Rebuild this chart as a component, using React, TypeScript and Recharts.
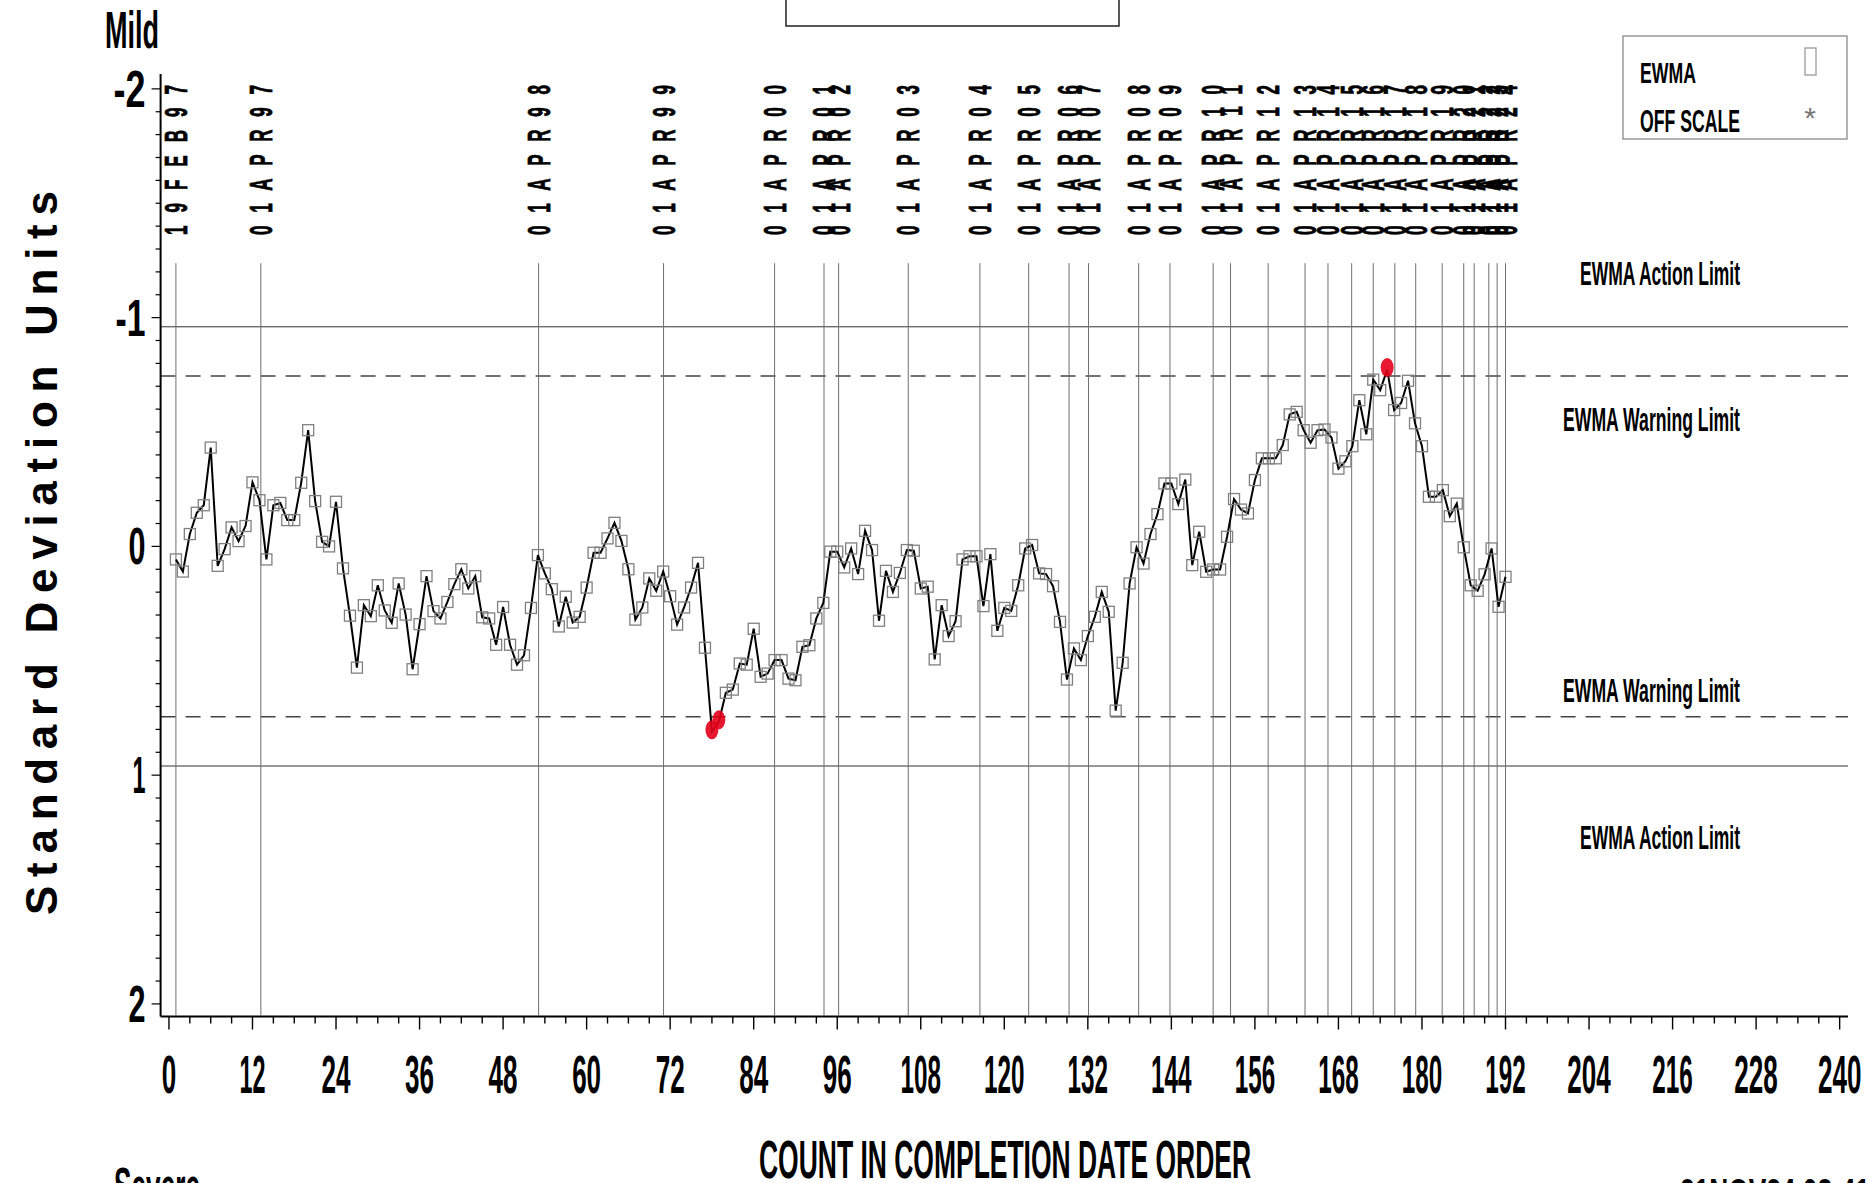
import React from 'react'
import { ComposedChart, Line, XAxis, YAxis, ReferenceLine } from 'recharts'

const W = 1875
const H = 1183
const FONT = '"Liberation Sans", Arial, Helvetica, sans-serif'

// EWMA in standard deviation units, one value per count (1..192)
const ewma = [
  0.057, 0.11, -0.054, -0.147, -0.18, -0.432, 0.085, 0.012, -0.083, -0.023,
  -0.089, -0.28, -0.202, 0.057, -0.18, -0.19, -0.115, -0.115, -0.278, -0.508,
  -0.198, -0.02, 0.0, -0.195, 0.096, 0.303, 0.53, 0.257, 0.305, 0.17,
  0.28, 0.334, 0.162, 0.298, 0.537, 0.34, 0.13, 0.283, 0.315, 0.243,
  0.165, 0.1, 0.184, 0.13, 0.31, 0.315, 0.43, 0.265, 0.43, 0.517,
  0.476, 0.269, 0.038, 0.118, 0.187, 0.35, 0.22, 0.333, 0.308, 0.18,
  0.028, 0.028, -0.035, -0.103, -0.024, 0.1, 0.32, 0.267, 0.14, 0.194,
  0.11, 0.218, 0.342, 0.267, 0.18, 0.072, 0.443, 0.81, 0.767, 0.64,
  0.626, 0.512, 0.517, 0.36, 0.57, 0.556, 0.497, 0.497, 0.578, 0.585,
  0.439, 0.432, 0.315, 0.247, 0.023, 0.023, 0.092, 0.009, 0.121, -0.068,
  0.016, 0.325, 0.107, 0.199, 0.116, 0.016, 0.019, 0.184, 0.176, 0.494,
  0.257, 0.392, 0.327, 0.057, 0.043, 0.043, 0.261, 0.034, 0.369, 0.269,
  0.282, 0.17, 0.009, -0.006, 0.118, 0.121, 0.174, 0.33, 0.582, 0.446,
  0.497, 0.392, 0.308, 0.199, 0.286, 0.718, 0.509, 0.162, 0.004, 0.075,
  -0.054, -0.141, -0.275, -0.275, -0.185, -0.292, 0.082, -0.064, 0.111, 0.101,
  0.101, -0.042, -0.207, -0.161, -0.144, -0.29, -0.385, -0.385, -0.385, -0.443,
  -0.577, -0.588, -0.508, -0.453, -0.508, -0.511, -0.476, -0.34, -0.372, -0.438,
  -0.639, -0.49, -0.729, -0.683, -0.773, -0.596, -0.627, -0.724, -0.538, -0.438,
  -0.217, -0.217, -0.246, -0.132, -0.187, 0.004, 0.17, 0.194, 0.122, 0.009,
  0.264, 0.133,
]

// counts drawn as red signal markers
const signalCounts = [78, 79, 175]

// vertical date markers (position in count units) and their labels
const dateLines = [
  1.0, 13.2, 53.1, 71.05, 87.0, 94.1, 96.2, 106.2, 116.5, 123.5,
  129.3, 132.1, 139.3, 143.8, 150.0, 152.5, 157.9, 163.2, 166.5, 169.9,
  173.0, 176.1, 179.1, 182.9, 186.0, 187.5, 189.6, 190.8, 192.0,
]
const dateLabels = [
  '19FEB97', '01APR97', '01APR98', '01APR99', '01APR00', '01APR01', '01APR02', '01APR03', '01APR04', '01APR05',
  '01APR06', '01APR07', '01APR08', '01APR09', '01APR10', '01APR11', '01APR12', '01APR13', '01APR14', '01APR15',
  '01APR16', '01APR17', '01APR18', '01APR19', '01APR20', '01APR21', '01APR22', '01APR23', '01APR24',
]

const xMajorTicks = [0, 12, 24, 36, 48, 60, 72, 84, 96, 108, 120, 132, 144, 156, 168, 180, 192, 204, 216, 228, 240]
const yMajorTicks = [-2, -1, 0, 1, 2]
const yTickText: Record<string, string> = { '-2': '-2', '-1': '-1', '0': '0', '1': '1', '2': '2' }

const actionLimit = 0.96
const warningLimit = 0.745

// minor ticks: every 3 counts on x, every 0.1 on y
const xTicks: number[] = []
for (let i = 0; i <= 240; i += 3) xTicks.push(i)
const yTicks: number[] = []
for (let i = -20; i <= 20; i++) yTicks.push(i / 10)

const data = ewma.map((v, i) => ({ count: i + 1, v }))

const XTick = (props: any) => {
  const { x, y, payload } = props
  const v = payload.value
  const major = xMajorTicks.includes(v)
  const s = String(v)
  const ones = s.split('').filter((c) => c === '1').length
  return (
    <g>
      <line x1={x} x2={x} y1={y} y2={y + (major ? 13 : 7)} stroke="#000" strokeWidth={1.4} />
      {major && (
        <text x={x} y={y + 76} textAnchor="middle" fontSize={54} fontWeight="bold" fontFamily={FONT}
          textLength={14.5 * s.length - 3 * ones} lengthAdjust="spacingAndGlyphs" fill="#000">
          {s}
        </text>
      )}
    </g>
  )
}

const yLabelWidth: Record<string, number> = { '-2': 32, '-1': 30, '0': 17, '1': 13, '2': 17 }

const YTick = (props: any) => {
  const { x, y, payload } = props
  const v = Math.round(payload.value * 10) / 10
  const major = yMajorTicks.includes(v)
  return (
    <g>
      <line x1={x} x2={x - (major ? 9 : 5)} y1={y} y2={y} stroke="#000" strokeWidth={1.2} />
      {major && (
        <text x={x - 15} y={y + 18} textAnchor="end" fontSize={51} fontWeight="bold" fontFamily={FONT}
          textLength={yLabelWidth[String(v)]} lengthAdjust="spacingAndGlyphs" fill="#000">
          {yTickText[String(v)]}
        </text>
      )}
    </g>
  )
}

// rotated date text sitting above each vertical marker line
const dateLabel = (text: string) => (p: any) => {
  const x = p.viewBox ? p.viewBox.x : 0
  return (
    <text transform={`translate(${x + 11}, 235) rotate(-90) scale(0.55, 1)`} fontSize={31} fontWeight="bold"
      fontFamily={FONT} textLength={150 / 0.55} lengthAdjust="spacing" fill="#000"
      stroke="#000" strokeWidth={0.8}>
      {text}
    </text>
  )
}

const renderDot = (p: any) => {
  const { cx, cy, payload, index } = p
  if (signalCounts.includes(payload.count)) {
    return <ellipse key={index} cx={cx} cy={cy - 2} rx={6.5} ry={9.5} fill="#e3001b" fillOpacity={0.9} />
  }
  return (
    <rect key={index} x={cx - 5.5} y={cy - 5.5} width={11} height={11} fill="none" stroke="#808080" strokeWidth={1.3} />
  )
}

function Cond({ x, y, w, size, anchor = 'start', children }: any) {
  return (
    <text x={x} y={y} fontSize={size} fontWeight="bold" fontFamily={FONT} textLength={w}
      lengthAdjust="spacingAndGlyphs" textAnchor={anchor} fill="#000">
      {children}
    </text>
  )
}

export default function App() {
  return (
    <div style={{ position: 'absolute', left: 0, top: 0, width: W, height: H, background: '#fff', overflow: 'hidden' }}>
      <ComposedChart width={W} height={H} data={data} margin={{ top: 74, right: 27, bottom: 106.5, left: 100.6 }}>
        <XAxis dataKey="count" type="number" domain={[-1.2, 241.2]} allowDataOverflow
          ticks={xTicks} interval={0} tick={<XTick />} tickLine={false} tickSize={0} tickMargin={0}
          height={60} axisLine={{ stroke: '#000', strokeWidth: 2.2 }} />
        <YAxis type="number" domain={[-2.065, 2.055]} allowDataOverflow reversed ticks={yTicks} interval={0}
          tick={<YTick />} tickLine={false} tickSize={0} tickMargin={0} width={60}
          axisLine={{ stroke: '#000', strokeWidth: 2 }} />

        <ReferenceLine y={-actionLimit} stroke="#333" strokeWidth={1} />
        <ReferenceLine y={actionLimit} stroke="#333" strokeWidth={1} />
        <ReferenceLine y={-warningLimit} stroke="#444" strokeWidth={1.5} strokeDasharray="15 10" />
        <ReferenceLine y={warningLimit} stroke="#444" strokeWidth={1.5} strokeDasharray="15 10" />

        {dateLines.map((c, i) => (
          <ReferenceLine key={c} segment={[{ x: c, y: -1.238 }, { x: c, y: 2.05 }]} stroke="#6f6f6f"
            strokeWidth={1} label={dateLabel(dateLabels[i])} />
        ))}

        <Line type="linear" dataKey="v" stroke="#000" strokeWidth={2} dot={renderDot} activeDot={false}
          isAnimationActive={false} />
      </ComposedChart>

      <svg width={W} height={H} style={{ position: 'absolute', left: 0, top: 0, pointerEvents: 'none' }}>
        <rect x={786} y={-4} width={333} height={30} fill="none" stroke="#222" strokeWidth={1.5} />
        <Cond x={105} y={48} w={54} size={52}>Mild</Cond>
        <Cond x={114} y={1204} w={86} size={52}>Severe</Cond>
        <Cond x={759} y={1178} w={492} size={54}>COUNT IN COMPLETION DATE ORDER</Cond>
        <Cond x={1680} y={1207} w={190} size={40}>21NOV24 08:41</Cond>
        <text transform="translate(57, 915) rotate(-90)" fontSize={44} fontWeight="bold" fontFamily={FONT}
          textLength={724} lengthAdjust="spacing" fill="#000">
          Standard Deviation Units
        </text>

        <Cond x={1740} y={285} w={160} size={33} anchor="end">EWMA Action Limit</Cond>
        <Cond x={1740} y={431} w={177} size={33} anchor="end">EWMA Warning Limit</Cond>
        <Cond x={1740} y={702} w={177} size={33} anchor="end">EWMA Warning Limit</Cond>
        <Cond x={1740} y={849} w={160} size={33} anchor="end">EWMA Action Limit</Cond>

        <rect x={1623} y={36} width={224} height={103} fill="none" stroke="#8a8a8a" strokeWidth={1.3} />
        <Cond x={1640} y={83} w={56} size={29}>EWMA</Cond>
        <Cond x={1640} y={132} w={100} size={31}>OFF SCALE</Cond>
        <rect x={1805} y={48} width={11} height={27} fill="none" stroke="#9a9a9a" strokeWidth={1.3} />
        <text x={1810} y={128} textAnchor="middle" fontSize={30} fontFamily={FONT} fill="#777">*</text>
      </svg>
    </div>
  )
}
